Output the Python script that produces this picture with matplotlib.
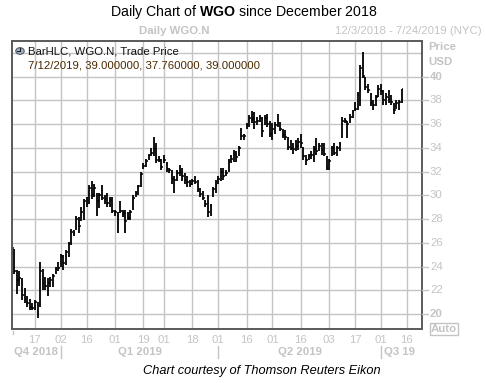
import matplotlib
matplotlib.use("Agg")
import matplotlib.pyplot as plt
import numpy as np
import pandas as pd

# trading calendar 12/3/2018 .. 7/24/2019 (NYSE holidays removed)
holidays = ['2018-12-05', '2018-12-25', '2019-01-01', '2019-01-21', '2019-02-18',
            '2019-04-19', '2019-05-27', '2019-07-04']
days = pd.bdate_range('2018-12-03', '2019-07-24')
days = days[~days.isin(pd.to_datetime(holidays))]

# daily high / low / close (12/3/2018 .. 7/12/2019)
highs = [25.9, 25.5, 23.7, 23.6, 23.0, 22.2, 21.5, 21.3, 20.9, 21.2,
         21.0, 24.4, 23.8, 23.1, 23.0, 23.1, 23.4, 24.0, 24.4, 25.1,
         25.0, 25.4, 26.1, 27.2, 27.1, 28.3, 28.2, 29.0, 29.7, 29.9,
         30.9, 31.2, 31.0, 30.2, 30.2, 30.9, 30.0, 30.2, 29.9, 29.9,
         28.8, 28.6, 29.5, 28.8, 28.8, 28.6, 28.8, 30.0, 30.4, 30.9,
         32.0, 32.7, 33.1, 33.5, 34.0, 34.9, 34.4, 33.3, 33.1, 33.4,
         32.8, 32.3, 32.1, 31.6, 32.1, 32.6, 32.3, 31.9, 31.6, 31.3,
         31.4, 31.6, 31.3, 30.6, 30.4, 29.6, 30.0, 29.3, 30.7, 31.3,
         31.6, 32.3, 32.3, 32.1, 33.1, 33.4, 33.8, 33.7, 34.2, 35.7,
         35.2, 36.1, 36.8, 37.1, 37.0, 36.6, 36.8, 36.6, 36.8, 36.9,
         36.3, 36.1, 36.2, 36.9, 36.2, 35.6, 35.5, 34.9, 34.7, 34.4,
         34.7, 34.8, 35.2, 34.1, 33.4, 33.5, 33.7, 34.2, 34.8, 34.4,
         34.4, 34.4, 33.3, 33.1, 34.2, 34.4, 34.2, 34.5, 36.6, 36.5,
         36.3, 36.9, 37.2, 37.9, 38.7, 41.0, 42.1, 40.0, 39.4, 38.6,
         38.0, 38.5, 39.3, 39.4, 38.9, 38.6, 38.9, 38.5, 37.8, 38.0,
         38.0, 39.0]
lows = [25.0, 23.4, 21.7, 22.4, 21.2, 20.9, 20.6, 20.3, 20.3, 20.3,
        19.7, 20.6, 22.0, 22.0, 21.5, 22.3, 22.3, 23.4, 23.6, 24.0,
        23.7, 24.1, 24.8, 25.8, 26.6, 27.1, 26.8, 27.8, 27.9, 29.0,
        29.3, 29.7, 29.9, 28.3, 28.9, 29.6, 29.3, 29.0, 29.0, 28.5,
        28.3, 26.8, 28.5, 28.2, 26.8, 27.9, 27.9, 28.8, 29.9, 30.0,
        30.7, 32.2, 32.4, 33.0, 33.3, 33.3, 32.7, 32.8, 32.1, 32.7,
        32.0, 31.9, 31.0, 30.2, 31.2, 31.6, 31.2, 31.0, 30.7, 30.7,
        30.9, 31.0, 30.3, 29.9, 29.6, 29.0, 28.2, 28.3, 29.9, 30.2,
        31.0, 31.2, 31.3, 31.6, 32.0, 32.7, 32.8, 32.8, 33.3, 34.7,
        34.7, 35.6, 35.8, 36.1, 35.6, 35.9, 36.2, 34.9, 35.9, 35.8,
        34.9, 34.7, 35.2, 35.8, 35.4, 34.8, 34.7, 33.8, 33.8, 33.5,
        33.7, 33.8, 34.0, 33.0, 32.6, 33.0, 33.1, 32.8, 33.4, 33.7,
        33.4, 33.3, 32.1, 32.1, 33.3, 33.4, 33.3, 33.7, 34.8, 36.1,
        34.8, 36.1, 36.5, 37.1, 37.2, 37.5, 39.9, 38.9, 38.6, 37.5,
        37.2, 37.5, 38.3, 38.5, 37.6, 37.6, 37.8, 37.6, 36.9, 37.3,
        37.2, 37.76]
closes = [25.6, 23.6, 22.9, 23.0, 21.6, 21.3, 20.9, 20.6, 20.5, 21.0,
          20.2, 23.6, 22.6, 22.4, 22.6, 22.9, 23.2, 23.8, 23.9, 24.9,
          24.3, 25.2, 25.9, 26.9, 26.8, 28.0, 27.4, 28.6, 29.5, 29.3,
          30.6, 30.0, 30.6, 29.5, 30.0, 29.8, 29.7, 29.4, 29.6, 28.7,
          28.6, 28.3, 28.7, 28.5, 27.8, 28.1, 28.6, 29.8, 30.2, 30.8,
          31.8, 32.5, 32.9, 33.3, 33.6, 33.9, 33.0, 33.0, 32.4, 33.0,
          32.2, 32.1, 31.4, 31.3, 31.9, 32.0, 31.6, 31.3, 31.1, 31.0,
          31.2, 31.1, 30.5, 30.1, 29.8, 29.3, 28.6, 29.1, 30.5, 30.9,
          31.4, 32.0, 31.6, 31.9, 32.9, 33.1, 33.5, 33.2, 34.0, 35.0,
          35.0, 35.9, 36.5, 36.4, 36.2, 36.3, 36.5, 35.4, 36.5, 36.0,
          35.2, 35.6, 35.9, 36.1, 35.6, 35.1, 34.9, 34.1, 34.0, 33.9,
          34.2, 34.5, 34.4, 33.3, 33.0, 33.3, 33.4, 33.9, 33.7, 34.2,
          33.8, 33.5, 32.3, 32.9, 34.0, 33.6, 34.0, 34.3, 36.3, 36.3,
          36.0, 36.6, 37.0, 37.3, 38.5, 40.7, 40.1, 39.1, 38.9, 37.8,
          37.6, 38.3, 39.0, 38.8, 38.0, 38.3, 38.1, 37.9, 37.2, 37.8,
          37.9, 39.0]

tick_dates = ['2018-12-17', '2019-01-02', '2019-01-16', '2019-02-01', '2019-02-19',
              '2019-03-01', '2019-03-18', '2019-04-01', '2019-04-16', '2019-05-01',
              '2019-05-16', '2019-06-03', '2019-06-17', '2019-07-01', '2019-07-16']
tick_labels = [d[-2:] for d in tick_dates]
price_ticks = list(range(20, 42, 2))

W, H = 486, 383
fig = plt.figure(figsize=(W / 100, H / 100), dpi=100)
plt.rcParams['font.family'] = 'Liberation Sans'
plt.rcParams['mathtext.fontset'] = 'custom'
plt.rcParams['mathtext.rm'] = 'Liberation Sans'
plt.rcParams['mathtext.bf'] = 'Liberation Sans:bold'

def px(x, y):
    return x / W, 1 - y / H

gray = '#c4c4c4'
fs = 8.2
L, R, T, B = 11.7, 421.7, 41, 329
ax = fig.add_axes([L / W, 1 - B / H, (R - L) / W, (B - T) / H])

idx = np.arange(len(highs))
ax.vlines(idx, lows, highs, color='black', lw=1.3)
ax.hlines(closes, idx, idx + 0.7, color='black', lw=1.1)

pos = [days.get_loc(pd.Timestamp(d)) for d in tick_dates]
ax.set_xticks(pos)
ax.set_xticklabels([])
ax.set_yticks(price_ticks + [42])
ax.set_yticklabels([])
ax.tick_params(length=0)
ax.grid(True, color='#c4c4c4', lw=1)
ax.set_axisbelow(True)
ax.set_xlim(0, 158.8)
ax.set_ylim(18.74, 43.01)
for s in ax.spines.values():
    s.set_color('#5a5a5a')
    s.set_linewidth(1.4)

def xpos(i):
    return L + i / 158.8 * (R - L)

# x tick labels
for p, lab in zip(pos, tick_labels):
    fig.text(*px(xpos(p), 340), lab, color=gray, fontsize=fs, ha='center', va='center')
fig.lines.append(plt.Line2D([12.5 / W] * 2, [1 - 331 / H, 1 - 334 / H],
                            transform=fig.transFigure, color=gray, lw=1))

# price labels on right
for v in price_ticks:
    y = T + (43.01 - v) / (43.01 - 18.74) * (B - T)
    fig.lines.append(plt.Line2D([422 / W, 428 / W], [1 - y / H] * 2,
                                transform=fig.transFigure, color=gray, lw=1))
    bold = v in (20, 40)
    fig.text(*px(430, y), str(v), color=gray, fontsize=fs,
             fontweight='bold' if bold else 'normal', ha='left', va='center')
fig.text(*px(428, 47), 'Price', color=gray, fontsize=fs, fontweight='bold', va='center')
fig.text(*px(428, 62), 'USD', color=gray, fontsize=fs, fontweight='bold', va='center')
fig.text(*px(431, 329), 'Auto', color=gray, fontsize=fs, fontweight='bold', va='center',
         bbox=dict(boxstyle='square,pad=0.12', fc='white', ec=gray, lw=1))

# quarter labels
q_idx = [days.get_loc(pd.Timestamp(d)) for d in ['2019-01-02', '2019-04-01', '2019-07-01']]
for i in q_idx:
    fig.lines.append(plt.Line2D([xpos(i) / W] * 2, [1 - 346 / H, 1 - 358 / H],
                                transform=fig.transFigure, color=gray, lw=1))
fig.text(*px(xpos(q_idx[0]) - 3, 352), 'Q4 2018', color=gray, fontsize=fs,
         fontweight='bold', ha='right', va='center')
fig.text(*px((xpos(q_idx[0]) + xpos(q_idx[1])) / 2, 352), 'Q1 2019', color=gray,
         fontsize=fs, fontweight='bold', ha='center', va='center')
fig.text(*px((xpos(q_idx[1]) + xpos(q_idx[2])) / 2, 352), 'Q2 2019', color=gray,
         fontsize=fs, fontweight='bold', ha='center', va='center')
fig.text(*px(xpos(q_idx[2]) + 3, 352), 'Q3 19', color=gray, fontsize=fs,
         fontweight='bold', ha='left', va='center')

# headers
fig.text(*px(244, 12), r'Daily Chart of $\mathbf{WGO}$ since December 2018',
         fontsize=10.2, ha='center', va='center')
fig.text(*px(174, 31), 'Daily WGO.N', color=gray, fontsize=fs, fontweight='bold',
         ha='center', va='center')
fig.text(*px(482, 31), '12/3/2018 - 7/24/2019 (NYC)', color=gray, fontsize=fs,
         ha='right', va='center')

# legend inside plot
circ = plt.Circle(px(20, 51), 4.2 / W, transform=fig.transFigure,
                  fc='#a8b4c8', ec='#505a6a', lw=0.8)
fig.patches.append(circ)
fig.lines.append(plt.Line2D([20 / W, 20 / W], [1 - 51 / H, 1 - 48 / H],
                            transform=fig.transFigure, color='#202020', lw=0.8))
fig.lines.append(plt.Line2D([20 / W, 17 / W], [1 - 51 / H, 1 - 51 / H],
                            transform=fig.transFigure, color='#202020', lw=0.8))
fig.text(*px(28, 52), 'BarHLC, WGO.N, Trade Price', fontsize=fs, color='#111111',
         va='center')
fig.text(*px(28, 66), '7/12/2019, 39.000000, 37.760000, 39.000000', fontsize=fs,
         color='#4a2a00', va='center')

fig.text(*px(262, 371), 'Chart courtesy of Thomson Reuters Eikon', fontsize=9.2,
         style='italic', ha='center', va='center')

fig.savefig('out.png', dpi=100)
